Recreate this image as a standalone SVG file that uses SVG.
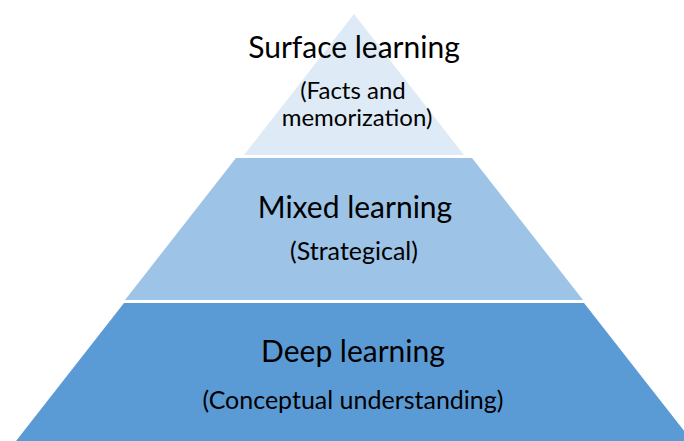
<svg xmlns="http://www.w3.org/2000/svg" width="684" height="441" viewBox="0 0 684 441">
  <style>
    .t { font-family: Lato, "Liberation Sans", sans-serif; fill: #000; text-anchor: middle; }
    .h { font-size: 30px; }
    .s { font-size: 25px; }
    .s2 { font-size: 24px; }
  </style>
  <rect width="684" height="441" fill="#fff"/>
  <g id="level-surface">
    <polygon points="354,14 464,155 244,155" fill="#DEEBF7"/>
    <text class="t h" x="354" y="58">Surface learning</text>
    <text class="t s2" x="353" y="99">(Facts and</text>
    <text class="t s2" x="357" y="126">memorization)</text>
  </g>
  <g id="level-mixed">
    <polygon points="236,158 472,158 583,300 125,300" fill="#9DC3E6"/>
    <text class="t h" x="355" y="218">Mixed learning</text>
    <text class="t s" x="354" y="260">(Strategical)</text>
  </g>
  <g id="level-deep">
    <polygon points="124,303 584,303 692,441 16,441" fill="#5B9BD5"/>
    <text class="t h" x="353" y="362">Deep learning</text>
    <text class="t s" x="353" y="409">(Conceptual understanding)</text>
  </g>
  <g id="connectors"></g>
</svg>
